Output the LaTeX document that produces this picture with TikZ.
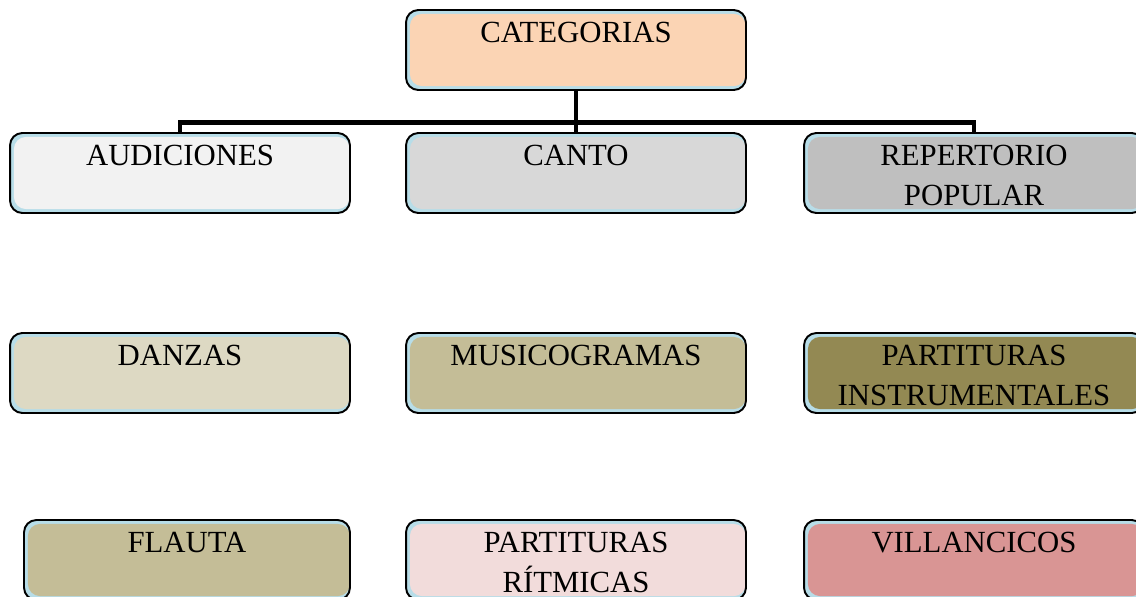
\documentclass[tikz,border=0pt]{standalone}
\usepackage{fontspec}
\setmainfont{Liberation Serif}
\usetikzlibrary{positioning}

\definecolor{innerblue}{HTML}{B7DDE8}
\definecolor{peach}{HTML}{FBD4B4}
\definecolor{gris1}{HTML}{F2F2F2}
\definecolor{gris2}{HTML}{D8D8D8}
\definecolor{gris3}{HTML}{BFBFBF}
\definecolor{caqui1}{HTML}{DDD9C3}
\definecolor{caqui2}{HTML}{C4BD97}
\definecolor{caqui3}{HTML}{938953}
\definecolor{rosa1}{HTML}{F2DCDB}
\definecolor{rosa2}{HTML}{D99594}

\tikzset{
  catbox/.style={draw=black, line width=1.1pt, rounded corners=7pt, fill=innerblue,
    minimum width=6.8cm, minimum height=1.6cm,
    path picture={\fill[#1] ([xshift=2.2pt,yshift=-2.2pt]path picture bounding box.north west)
      rectangle ([yshift=2.2pt]path picture bounding box.south east);}},
  cattext/.style={anchor=north, inner sep=0pt, align=center, font=\fontsize{17.5}{23}\selectfont},
  conn/.style={line width=2.8pt}
}

\begin{document}
\begin{tikzpicture}[x=0.02cm,y=-0.02cm]
\useasboundingbox (0,0) rectangle (1136,596);
\clip (0,0) rectangle (1136,596);

% cajas
\node[catbox=peach] (cat) at (576,50) {};
\node[catbox=gris1] (aud) at (180,173) {};
\node[catbox=gris2] (cant) at (576,173) {};
\node[catbox=gris3] (rep) at (974,173) {};
\node[catbox=caqui1] (dan) at (180,373) {};
\node[catbox=caqui2] (mus) at (576,373) {};
\node[catbox=caqui3] (pins) at (974,373) {};
\node[catbox=caqui2, minimum width=6.52cm] (fla) at (187,560) {};
\node[catbox=rosa1] (prit) at (576,560) {};
\node[catbox=rosa2] (vil) at (974,560) {};

% textos
\node[cattext, below=0.25cm of cat.north] {CATEGORIAS};
\node[cattext, below=0.25cm of aud.north] {AUDICIONES};
\node[cattext, below=0.25cm of cant.north] {CANTO};
\node[cattext, below=0.25cm of rep.north] {REPERTORIO\\POPULAR};
\node[cattext, below=0.25cm of dan.north] {DANZAS};
\node[cattext, below=0.25cm of mus.north] {MUSICOGRAMAS};
\node[cattext, below=0.25cm of pins.north] {PARTITURAS\\INSTRUMENTALES};
\node[cattext, below=0.25cm of fla.north] {FLAUTA};
\node[cattext, below=0.25cm of prit.north] {PARTITURAS\\RÍTMICAS};
\node[cattext, below=0.25cm of vil.north] {VILLANCICOS};

% conectores
\draw[conn] (cat.south) -- (cant.north);
\draw[conn] (aud.north) -- ++(0,-10) -| (rep.north);
\end{tikzpicture}
\end{document}
